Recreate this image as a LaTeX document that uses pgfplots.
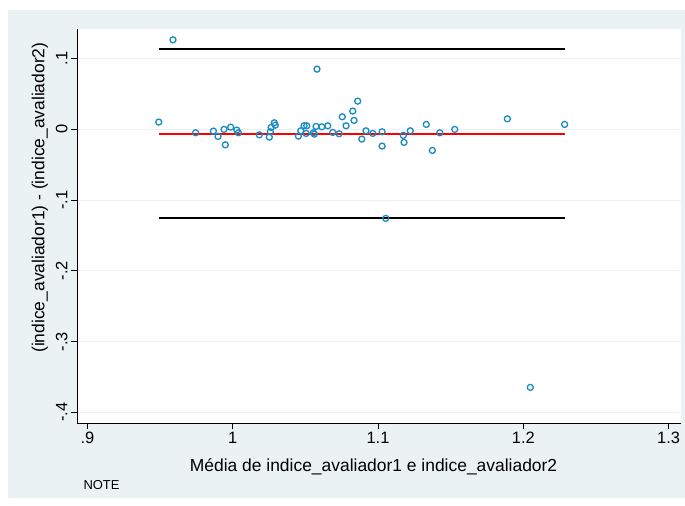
\documentclass[border=0pt]{standalone}
\usepackage{fontspec}
\setmainfont{Liberation Sans}
\usepackage{pgfplots}
\usepackage{pgfplotstable}
\pgfplotsset{compat=1.18}
\definecolor{stbg}{RGB}{234,242,243}
\definecolor{stblue}{RGB}{24,140,194}

% mean of the two raters (x) and their difference (y)
\pgfplotstableread{
m       d
0.9491  0.0099
0.9589  0.1261
0.9745 -0.0052
0.9867 -0.0028
0.9899 -0.0103
0.9940 -0.0004
0.9949 -0.0222
0.9986  0.0028
1.0028 -0.0014
1.0039 -0.0052
1.0183 -0.0081
1.0252 -0.0113
1.0259 -0.0038
1.0264  0.0024
1.0286  0.0089
1.0293  0.0056
1.0452 -0.0099
1.0468 -0.0024
1.0491  0.0047
1.0509  0.0047
1.0505 -0.0061
1.0555 -0.0052
1.0562 -0.0071
1.0573  0.0038
1.0580  0.0847
1.0613  0.0032
1.0654  0.0047
1.0688 -0.0047
1.0732 -0.0066
1.0754  0.0174
1.0780  0.0047
1.0826  0.0254
1.0835  0.0123
1.0860  0.0395
1.0888 -0.0141
1.0917 -0.0024
1.0964 -0.0061
1.1028 -0.0038
1.1028 -0.0240
1.1053 -0.1261
1.1174 -0.0089
1.1179 -0.0188
1.1222 -0.0024
1.1332  0.0066
1.1374 -0.0301
1.1425 -0.0052
1.1528 -0.0004
1.1890  0.0145
1.2048 -0.3648
1.2284  0.0066
}\dados

\begin{document}
\begin{tikzpicture}[x=1bp,y=1bp]
\fill[white] (-77,-83) rectangle (608,423);
\fill[stbg] (-69,-75) rectangle (608,413);
\begin{axis}[
  at={(0,0)}, anchor=south west,
  scale only axis, width=604bp, height=394bp,
  xmin=0.89284, xmax=1.3085, ymin=-0.4151, ymax=0.1414,
  axis background/.style={fill=white},
  axis x line*=bottom, axis y line*=left,
  axis line style={-, black, line width=0.8bp},
  tick align=outside, major tick length=6bp,
  tick style={black, line width=0.8bp},
  xtick={0.9,1,1.1,1.2,1.3}, xticklabels={.9,1,1.1,1.2,1.3},
  ytick={-0.4,-0.3,-0.2,-0.1,0,0.1}, yticklabels={-.4,-.3,-.2,-.1,0,.1},
  tick label style={font=\fontsize{16.5}{18}\selectfont},
  yticklabel style={rotate=90, anchor=south},
  ymajorgrids, major grid style={stbg, line width=0.8bp},
  xlabel={Média de indice\_avaliador1 e indice\_avaliador2},
  ylabel={(indice\_avaliador1) - (indice\_avaliador2)},
  label style={font=\fontsize{17.5}{20}\selectfont},
  xlabel style={at={(axis description cs:0.491,-0.1117)}, anchor=center},
  ylabel style={at={(axis description cs:-0.0613,0.572)}, anchor=center},
  clip=false,
]
% limits of agreement and mean difference
\addplot[black, line width=2.2bp] coordinates {(0.9491,0.1126) (1.2284,0.1126)};
\addplot[black, line width=2.2bp] coordinates {(0.9491,-0.1261) (1.2284,-0.1261)};
\addplot[red, line width=1.8bp] coordinates {(0.9491,-0.0067) (1.2284,-0.0067)};
\addplot[only marks, mark=o, mark size=3bp, stblue, line width=1.3bp] table[x=m, y=d] {\dados};
\end{axis}
\node[anchor=west, font=\fontsize{13}{15}\selectfont] at (3,-62) {NOTE};
\end{tikzpicture}
\end{document}
